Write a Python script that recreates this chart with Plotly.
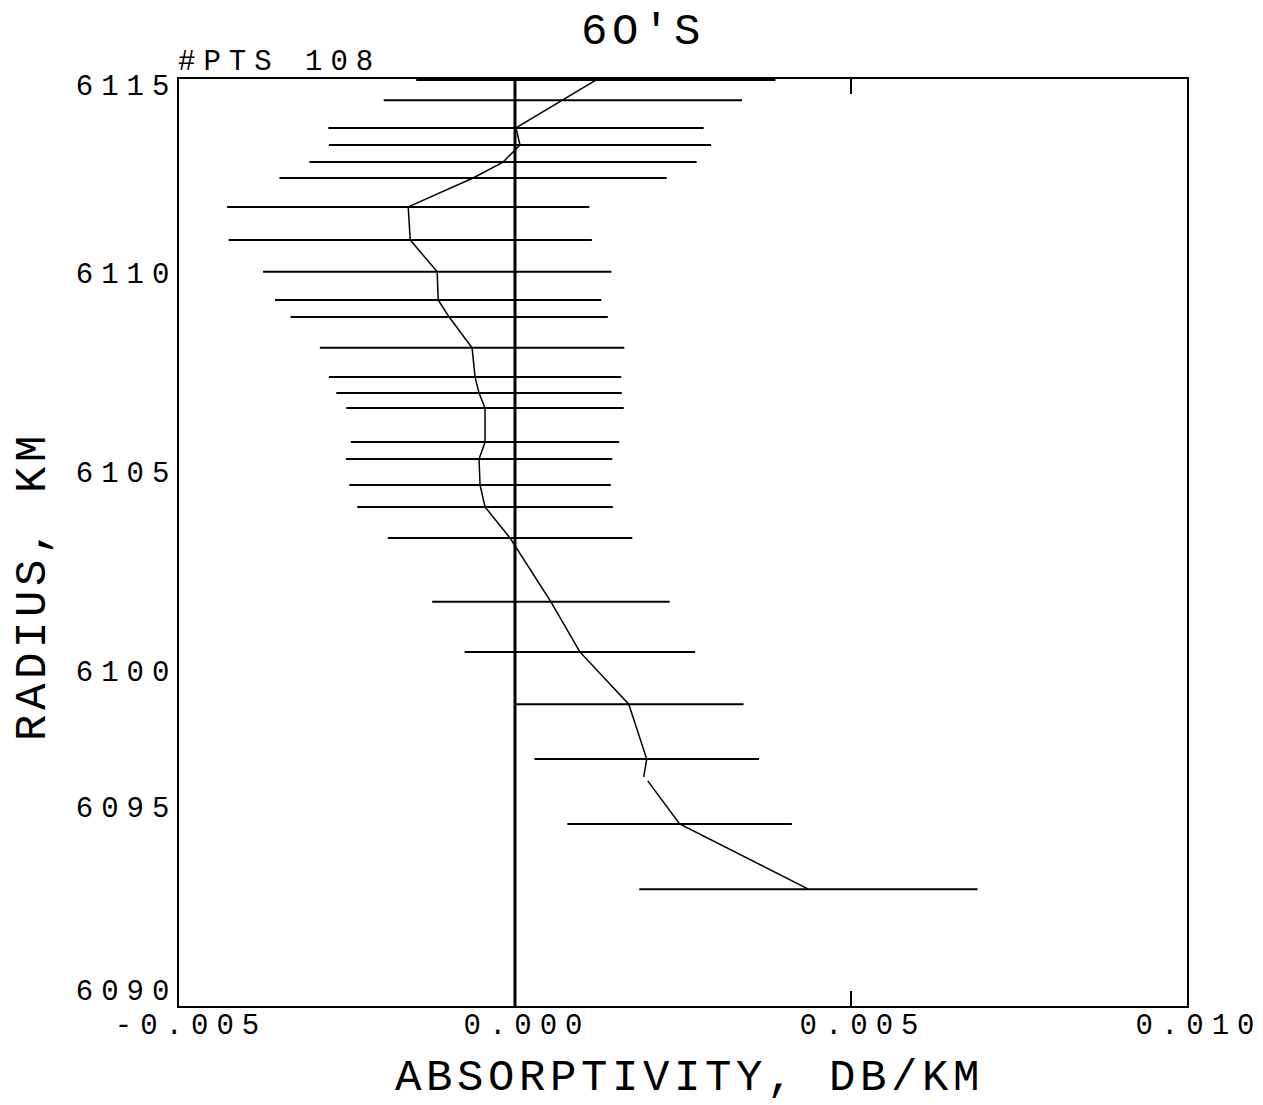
import plotly.graph_objects as go

# ---------------- data ----------------
radius_km = [6114.97, 6114.43, 6113.68, 6113.22, 6112.76, 6112.33, 6111.55, 6110.66,
             6109.80, 6109.04, 6108.58, 6107.75, 6106.96, 6106.53, 6106.13, 6105.21,
             6104.75, 6104.05, 6103.46, 6102.62, 6100.90, 6099.55, 6098.14, 6096.66,
             6094.91, 6093.15]
absorptivity = [0.001203, 0.000713, 0.000015, 0.000074, -0.000178, -0.000624, -0.001589,
                -0.001559, -0.001158, -0.001143, -0.000980, -0.000639, -0.000594,
                -0.000535, -0.000446, -0.000446, -0.000535, -0.000520, -0.000446,
                -0.000074, 0.000535, 0.000965, 0.001693, 0.001960, 0.002450, 0.004366]
error_halfwidth = [0.002673, 0.002666, 0.002792, 0.002844, 0.002881, 0.002881, 0.002695,
                   0.002703, 0.002591, 0.002428, 0.002361, 0.002265, 0.002175, 0.002124,
                   0.002064, 0.001997, 0.001982, 0.001945, 0.001901, 0.001819, 0.001767,
                   0.001715, 0.001708, 0.001671, 0.001671, 0.002517]

# profile line (pen lift between 6096.18 and 6096.07)
line_radius = radius_km[:24] + [6096.18, None, 6096.07] + radius_km[24:]
line_absorp = absorptivity[:24] + [0.001916, None, 0.001975] + absorptivity[24:]

x_tickvals = [-0.005, 0.0, 0.005, 0.010]
x_ticktext = ["-0.005", "0.000", "0.005", "0.010"]
y_tick_marks = [6109.687, 6104.320, 6098.981, 6095.340]
y_label_pos = [6114.838, 6109.768, 6104.401, 6099.035, 6095.367, 6090.431]
y_ticktext = ["6115", "6110", "6105", "6100", "6095", "6090"]

title_text = "6O'S"
x_title = "ABSORPTIVITY, DB/KM"
y_title = "RADIUS, KM"
pts_text = "#PTS 108"

# ---------------- style ----------------
FONT = "Liberation Mono"
L, R, T, B = 179, 76, 79, 99
PW, PH = 1263 - L - R, 1105 - T - B
TICK_SIZE, TICK_LS = 29, 8
TITLE_SIZE, TITLE_LS = 44, 4.6


def spaced(t, ls):
    return f'<span style="letter-spacing:{ls}px">{t[:-1]}</span>{t[-1]}'


fig = go.Figure()
fig.add_trace(go.Scatter(
    x=absorptivity, y=radius_km, mode="markers",
    marker=dict(size=1, color="rgba(0,0,0,0)"),
    error_x=dict(type="data", array=error_halfwidth, symmetric=True,
                 color="black", thickness=2, width=0),
    showlegend=False, hoverinfo="skip"))
fig.add_trace(go.Scatter(
    x=line_absorp, y=line_radius, mode="lines",
    line=dict(color="black", width=1.5), connectgaps=False,
    showlegend=False, hoverinfo="skip"))

fig.add_shape(type="line", xref="x", yref="paper", x0=0, x1=0, y0=0, y1=1,
              line=dict(color="black", width=3))

fig.update_layout(
    width=1263, height=1105,
    margin=dict(l=L, r=R, t=T, b=B, autoexpand=False),
    paper_bgcolor="white", plot_bgcolor="white",
    font=dict(family=FONT, color="black", size=TICK_SIZE),
    xaxis=dict(range=[-0.005, 0.010], tickvals=x_tickvals,
               ticktext=[spaced(t, TICK_LS) for t in x_ticktext],
               ticks="inside", ticklen=15, tickwidth=1.5, tickcolor="black",
               showline=True, linecolor="black", linewidth=1.5, mirror="ticks",
               showgrid=False, zeroline=False, ticklabelshift=8,
               ticklabelstandoff=-9, automargin=False,
               tickfont=dict(family=FONT, size=TICK_SIZE, color="black")),
    yaxis=dict(range=[6090, 6115], tickvals=y_label_pos,
               ticktext=[spaced(t, TICK_LS) for t in y_ticktext],
               ticks="", showline=True, linecolor="black", linewidth=1.5,
               mirror=True, showgrid=False, zeroline=False,
               ticklabelstandoff=2, automargin=False,
               tickfont=dict(family=FONT, size=TICK_SIZE, color="black")),
    yaxis2=dict(range=[6090, 6115], overlaying="y", side="left", anchor="x",
                tickvals=y_tick_marks, showticklabels=False, automargin=False,
                ticks="inside", ticklen=16, tickwidth=1.5, tickcolor="black",
                showline=False, mirror="ticks", showgrid=False, zeroline=False),
)

fig.add_annotation(text=spaced(title_text, TITLE_LS), xref="paper", yref="paper",
                   x=(640 - L) / PW, y=1 + (T - 32) / PH,
                   xanchor="center", yanchor="middle", showarrow=False,
                   font=dict(family=FONT, size=TITLE_SIZE, color="black"))
fig.add_annotation(text=spaced(pts_text, TICK_LS), xref="paper", yref="paper",
                   x=(176 - L) / PW, y=1 + (T - 62) / PH,
                   xanchor="left", yanchor="middle", showarrow=False,
                   font=dict(family=FONT, size=TICK_SIZE, color="black"))
fig.add_annotation(text=spaced(x_title, TITLE_LS), xref="paper", yref="paper",
                   x=(687 - L) / PW, y=-(1078 - (T + PH)) / PH,
                   xanchor="center", yanchor="middle", showarrow=False,
                   font=dict(family=FONT, size=TITLE_SIZE, color="black"))
fig.add_annotation(text=spaced(y_title, TITLE_LS), xref="paper", yref="paper",
                   x=-(L - 33) / PW, y=(T + PH - 589) / PH,
                   xanchor="center", yanchor="middle", showarrow=False,
                   textangle=-90,
                   font=dict(family=FONT, size=TITLE_SIZE, color="black"))

fig.write_html("out.html")
